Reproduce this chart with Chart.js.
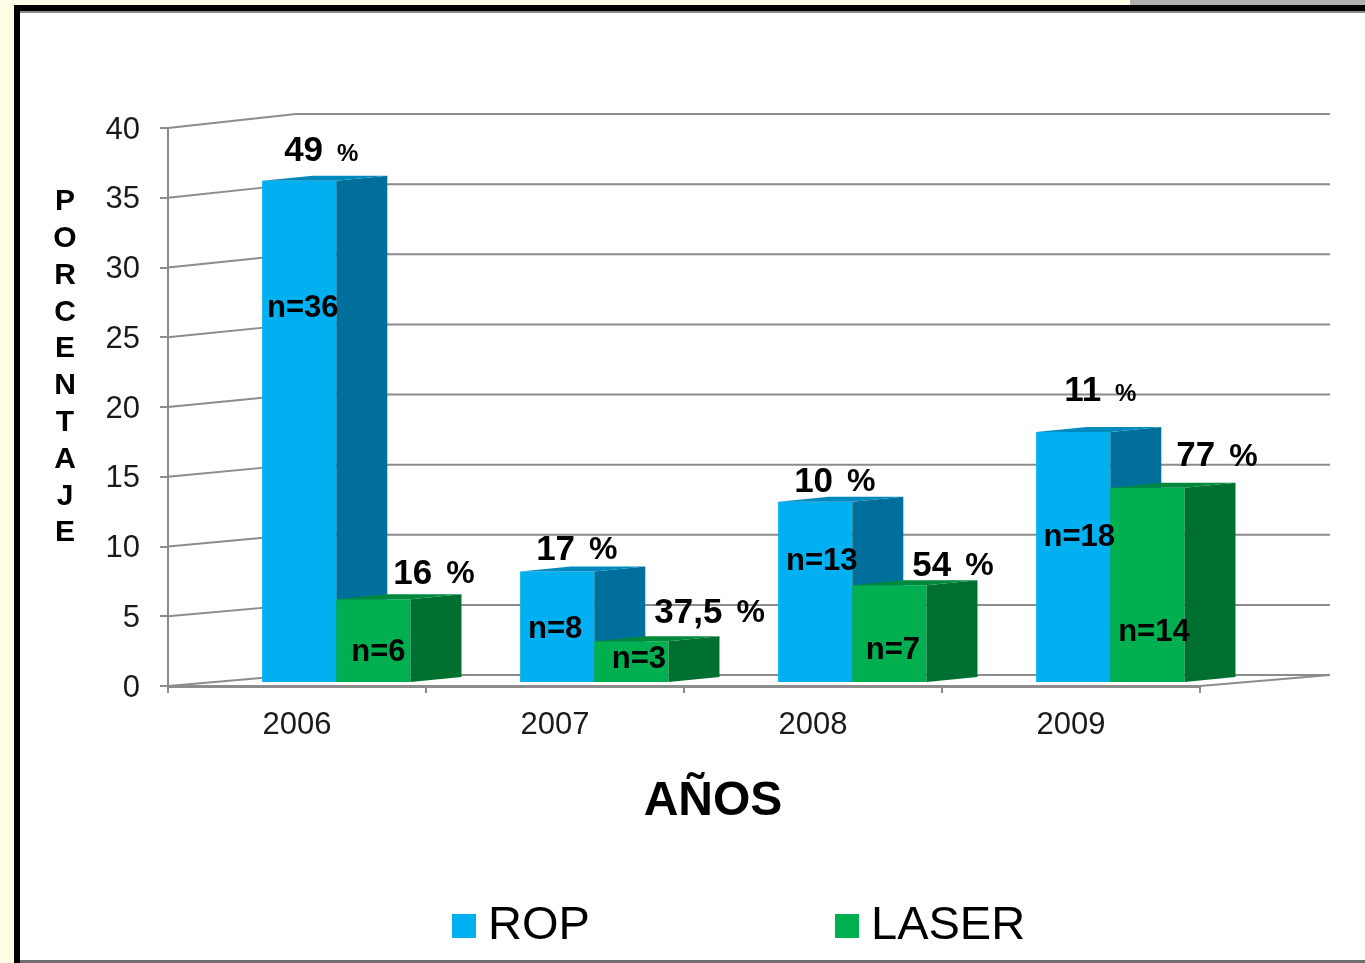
<!DOCTYPE html>
<html>
<head>
<meta charset="utf-8">
<title>ROP / LASER</title>
<script src="https://cdn.jsdelivr.net/npm/chart.js@4"></script>
<style>
  html, body { margin: 0; padding: 0; background: #fffde3; overflow: hidden; }
  #strip { position: absolute; left: 1130px; top: 0; width: 235px; height: 5px; background: #b0b0b0; }
  #frame { position: absolute; left: 14px; top: 5px; width: 1351px; height: 958px; box-sizing: border-box;
           background: #fff; border-left: 6px solid #000; border-top: 6px solid #000; }
  #frame-shade { position: absolute; left: 20px; top: 11px; width: 1345px; height: 2px; background: #8a8a8a; }
  #frame-bottom { position: absolute; left: 20px; top: 960px; width: 1345px; height: 3px; background: #6e6e6e; }
  #wrap { position: absolute; left: 0; top: 0; width: 1365px; height: 963px; filter: blur(0.4px); }
</style>
</head>
<body>
<div id="strip"></div>
<div id="frame"></div>
<div id="frame-shade"></div>
<div id="frame-bottom"></div>
<div id="wrap"><canvas id="chart"></canvas></div>
<script>
// data
const years = ['2006', '2007', '2008', '2009'];
const ropValues = [36, 8, 13, 18];
const laserValues = [6, 3, 7, 14];
const ropPercent = ['49', '17', '10', '11'];
const laserPercent = ['16', '37,5', '54', '77'];
const ropCounts = ['n=36', 'n=8', 'n=13', 'n=18'];
const laserCounts = ['n=6', 'n=3', 'n=7', 'n=14'];
const yTicks = [0, 5, 10, 15, 20, 25, 30, 35, 40];

// label placement, relative to each bar
const percentOffsets = [
  [[22, -30], [16, -22], [16, -20], [28, -42]],
  [[57, -26], [60, -29], [60, -20], [66, -32]]
];
const countOffsets = [
  [[3.5, 127], [-2, 57], [6.5, 59], [6, 105]],
  [[5, 52], [7.5, 17], [3.5, 64], [6.5, 144]]
];
const smallPercent = [[true, false, false, true], [false, false, false, false]];

const FONT = '"Liberation Sans", Arial, sans-serif';
const GRID = '#8c8c8c';
const BAR_SHIFT_X = 39.3;
const BAR_SHIFT_Y = -3;
const DEPTH_X = 51;
const DEPTH_Y = 5;
const WALL_X = 128;
const WALL_RIGHT = 1330;

const sideColors = ['#006F9C', '#007030'];
const topColors = ['#0089BD', '#00893C'];

function poly(ctx, pts, color) {
  ctx.fillStyle = color;
  ctx.beginPath();
  pts.forEach((p, i) => i ? ctx.lineTo(p[0], p[1]) : ctx.moveTo(p[0], p[1]));
  ctx.closePath();
  ctx.fill();
}

// back wall grid lines, going back from the front ticks
const wallPlugin = {
  id: 'wall',
  beforeDatasetsDraw(chart) {
    const { ctx, scales: { x, y } } = chart;
    ctx.save();
    ctx.strokeStyle = GRID;
    ctx.lineWidth = 2;
    yTicks.forEach(v => {
      const py = y.getPixelForValue(v);
      const backY = py - (11 + v * 0.075);
      ctx.beginPath();
      ctx.moveTo(x.left, py);
      ctx.lineTo(x.left + WALL_X, backY);
      ctx.lineTo(WALL_RIGHT, backY);
      ctx.stroke();
    });
    // floor edge on the right
    const floor = y.getPixelForValue(0);
    ctx.beginPath();
    ctx.moveTo(x.right, floor);
    ctx.lineTo(WALL_RIGHT, floor - 11);
    ctx.stroke();
    ctx.restore();
  }
};

// Chart.js paints the last dataset first, here ROP has to go under LASER,
// so the normal pass is skipped and the bars are drawn in series order
const depthPlugin = {
  id: 'depth',
  beforeDatasetsDraw(chart) {
    const ctx = chart.ctx;
    [0, 1].forEach(s => {
      const meta = chart.getDatasetMeta(s);
      ctx.save();
      ctx.translate(BAR_SHIFT_X, BAR_SHIFT_Y);
      meta.controller.draw();
      meta.data.forEach(bar => {
        const l = bar.x - bar.width / 2, r = bar.x + bar.width / 2;
        poly(ctx, [[r, bar.y], [r + DEPTH_X, bar.y - DEPTH_Y], [r + DEPTH_X, bar.base - DEPTH_Y], [r, bar.base]], sideColors[s]);
        poly(ctx, [[l, bar.y], [l + DEPTH_X, bar.y - DEPTH_Y], [r + DEPTH_X, bar.y - DEPTH_Y], [r, bar.y]], topColors[s]);
      });
      ctx.restore();
    });
  },
  beforeDatasetDraw() {
    return false;
  }
};

const labelPlugin = {
  id: 'labels',
  afterDatasetsDraw(chart) {
    const ctx = chart.ctx;
    const percents = [ropPercent, laserPercent];
    const counts = [ropCounts, laserCounts];
    ctx.save();
    ctx.fillStyle = '#000';
    ctx.textBaseline = 'middle';
    [0, 1].forEach(s => {
      chart.getDatasetMeta(s).data.forEach((bar, i) => {
        const left = bar.x - bar.width / 2 + BAR_SHIFT_X;
        const top = bar.y + BAR_SHIFT_Y;
        // count inside the bar
        ctx.font = 'bold 31px ' + FONT;
        ctx.textAlign = 'center';
        ctx.fillText(counts[s][i], bar.x + BAR_SHIFT_X + countOffsets[s][i][0], top + countOffsets[s][i][1] + 1);
        // percent above the bar
        const px = left + percentOffsets[s][i][0];
        const py = top + percentOffsets[s][i][1] + 1;
        ctx.font = 'bold 35px ' + FONT;
        ctx.textAlign = 'left';
        ctx.fillText(percents[s][i], px, py);
        const w = ctx.measureText(percents[s][i]).width;
        ctx.font = 'bold ' + (smallPercent[s][i] ? 24 : 32) + 'px ' + FONT;
        ctx.fillText('%', px + w + 14, py + (smallPercent[s][i] ? 3 : 0));
      });
    });

    // vertical axis title, one letter per line
    ctx.font = 'bold 30px ' + FONT;
    ctx.textAlign = 'center';
    'PORCENTAJE'.split('').forEach((ch, i) => ctx.fillText(ch, 65, 202 + i * 36.8));

    // horizontal axis title
    ctx.font = 'bold 48px ' + FONT;
    ctx.fillText('AÑOS', 713, 802);

    // legend
    ctx.font = '47px ' + FONT;
    ctx.textAlign = 'left';
    [452, 835].forEach((lx, i) => {
      ctx.fillStyle = chart.data.datasets[i].backgroundColor;
      ctx.fillRect(lx, 914, 24, 24);
      ctx.fillStyle = '#000';
      ctx.fillText(chart.data.datasets[i].label, lx + 36, 926);
    });
    ctx.restore();
  }
};

new Chart(document.getElementById('chart'), {
  type: 'bar',
  data: {
    labels: years,
    datasets: [
      { label: 'ROP', data: ropValues, backgroundColor: '#00B0F0', categoryPercentage: 0.575, barPercentage: 1 },
      { label: 'LASER', data: laserValues, backgroundColor: '#00B050', categoryPercentage: 0.575, barPercentage: 1 }
    ]
  },
  options: {
    responsive: true,
    maintainAspectRatio: false,
    animation: false,
    layout: { padding: { left: 0, right: 165, top: 128, bottom: 0 } },
    scales: {
      x: {
        afterFit(scale) { scale.height = 277; },
        grid: { drawOnChartArea: false, color: GRID, lineWidth: 2, tickLength: 7, offset: true },
        border: { color: GRID, width: 3 },
        ticks: { color: '#1a1a1a', font: { family: FONT, size: 31 }, padding: 14, maxRotation: 0 }
      },
      y: {
        min: 0,
        max: 40,
        afterFit(scale) { scale.width = 168; },
        grid: { drawOnChartArea: false, color: GRID, lineWidth: 2, tickLength: 8 },
        border: { color: GRID, width: 2 },
        ticks: { stepSize: 5, color: '#1a1a1a', font: { family: FONT, size: 31 }, padding: 20, labelOffset: 2 }
      }
    },
    plugins: {
      legend: { display: false },
      tooltip: { enabled: false }
    }
  },
  plugins: [wallPlugin, depthPlugin, labelPlugin]
});
</script>
</body>
</html>
